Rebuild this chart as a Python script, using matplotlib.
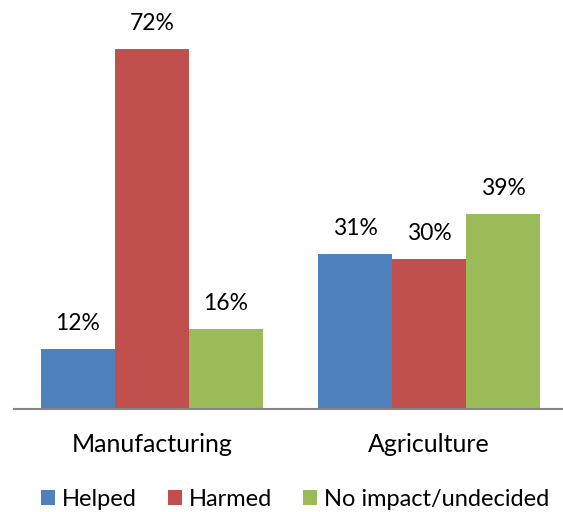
import matplotlib.pyplot as plt
import numpy as np

# data
categories = ['Manufacturing', 'Agriculture']
series = ['Helped', 'Harmed', 'No impact/undecided']
helped = [12, 31]
harmed = [72, 30]
no_impact = [16, 39]
colours = ['#4F81BD', '#C0504D', '#9BBB59']

plt.rcParams['font.family'] = ['Lato', 'DejaVu Sans']

fig = plt.figure(figsize=(5.63, 5.12), dpi=100)
ax = fig.add_axes([13.5 / 563, 103 / 512, 549.5 / 563, 400 / 512])

x = np.arange(len(categories))
width = 0.267

for i, (name, values) in enumerate(zip(series, [helped, harmed, no_impact])):
    pos = x + (i - 1) * width
    bars = ax.bar(pos, values, width, color=colours[i], label=name)
    for b, v in zip(bars, values):
        ax.text(b.get_x() + b.get_width() / 2, v + 3, f'{v}%',
                ha='center', va='bottom', fontsize=16.5)

ax.set_xlim(-0.5, -0.5 + 549.5 / 277)
ax.set_ylim(0, 80)

# axis styling
for side in ['top', 'right', 'left']:
    ax.spines[side].set_visible(False)
ax.spines['bottom'].set_color('#868686')
ax.spines['bottom'].set_linewidth(1.5)
ax.set_yticks([])
ax.set_xticks(x)
ax.set_xticklabels(categories, fontsize=18)
ax.tick_params(axis='x', length=0, pad=17)

fig.legend(loc='center', bbox_to_anchor=(295 / 563, 1 - 499 / 512), ncol=3,
           frameon=False, fontsize=17, handlelength=0.6, handleheight=0.6,
           handletextpad=0.3, columnspacing=1.3, borderaxespad=0)

fig.savefig('out.png', dpi=100)
